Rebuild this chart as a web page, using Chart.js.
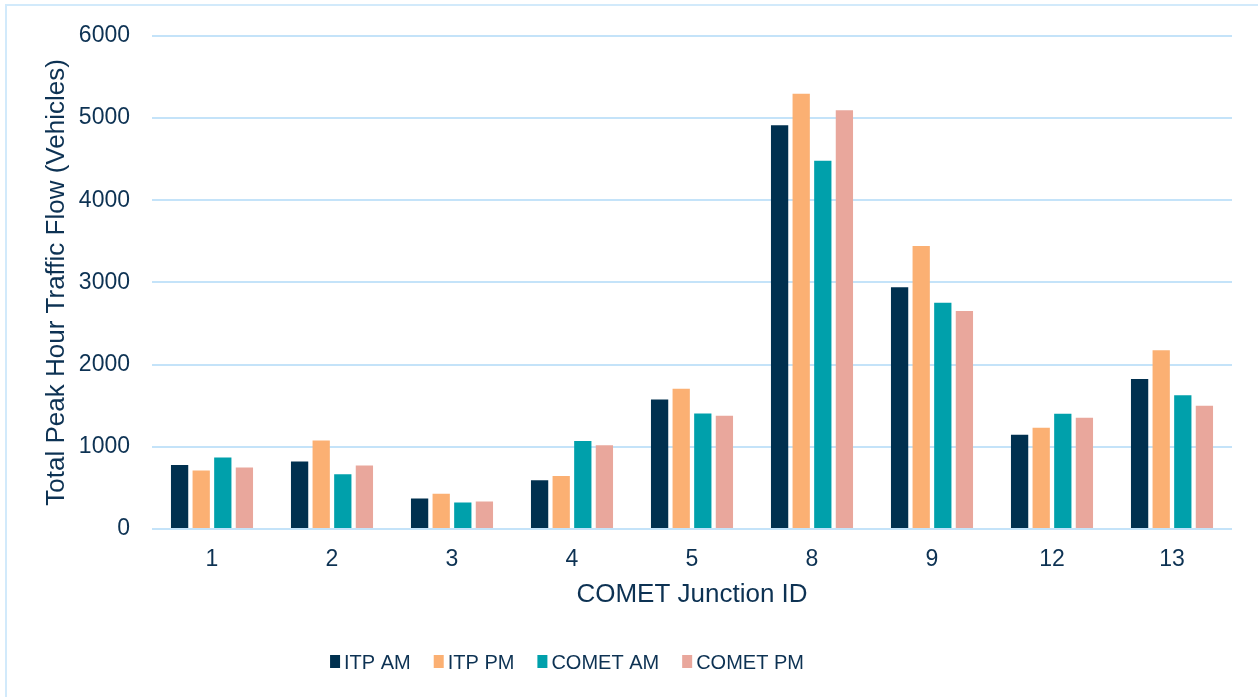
<!DOCTYPE html>
<html>
<head>
<meta charset="utf-8">
<script src="https://cdn.jsdelivr.net/npm/chart.js@4.4.1/dist/chart.umd.min.js"></script>
<style>
  html, body { margin: 0; padding: 0; background: #fff; overflow: hidden; }
  #frame {
    position: absolute; left: 5px; top: 4px;
    width: 1300px; height: 800px;
    border: 2px solid #d2eafb;
  }
  #wrap { position: absolute; left: 0; top: 0; width: 1258px; height: 697px; }
</style>
</head>
<body>
<div id="frame"></div>
<div id="wrap"><canvas id="flowChart" width="1258" height="697"></canvas></div>
<script>
// 교차로별 첨두시 교통량
var junctions = ['1', '2', '3', '4', '5', '8', '9', '12', '13'];
var itpAm   = [778, 820, 371, 594, 1575, 4911, 2940, 1146, 1826];
var itpPm   = [711, 1076, 428, 646, 1705, 5296, 3444, 1231, 2174];
var cometAm = [871, 665, 322, 1070, 1405, 4480, 2753, 1401, 1627];
var cometPm = [747, 772, 334, 1018, 1377, 5094, 2652, 1353, 1498];
var yTicks  = [0, 1000, 2000, 3000, 4000, 5000, 6000];

var textColor = '#0d3253';
var gridColor = '#c4e3f9';
var fontFamily = '"Liberation Sans", Arial, sans-serif';

// 범례를 캔버스 아래쪽에 직접 그리는 플러그인
var bottomLegend = {
  id: 'bottomLegend',
  afterDraw: function (chart) {
    var ctx = chart.ctx;
    var centerX = 567, centerY = 662;
    var boxW = 10, boxH = 13, gap = 4, space = 23;
    ctx.save();
    ctx.font = '20px ' + fontFamily;
    var items = chart.data.datasets.map(function (ds) {
      return { text: ds.label, color: ds.backgroundColor, w: ctx.measureText(ds.label).width };
    });
    var total = items.reduce(function (s, it) { return s + boxW + gap + it.w; }, 0) + space * (items.length - 1);
    var x = centerX - total / 2;
    ctx.textBaseline = 'middle';
    ctx.textAlign = 'left';
    items.forEach(function (it) {
      ctx.fillStyle = it.color;
      ctx.fillRect(x, centerY - 7, boxW, boxH);
      ctx.fillStyle = textColor;
      ctx.fillText(it.text, x + boxW + gap, centerY + 1);
      x += boxW + gap + it.w + space;
    });
    ctx.restore();
  }
};

var ctx = document.getElementById('flowChart').getContext('2d');
new Chart(ctx, {
  type: 'bar',
  data: {
    labels: junctions,
    datasets: [
      { label: 'ITP AM', data: itpAm, backgroundColor: '#00304f' },
      { label: 'ITP PM', data: itpPm, backgroundColor: '#fbb073' },
      { label: 'COMET AM', data: cometAm, backgroundColor: '#00a0ab' },
      { label: 'COMET PM', data: cometPm, backgroundColor: '#e9a79c' }
    ]
  },
  options: {
    responsive: false,
    animation: false,
    devicePixelRatio: 1,
    datasets: {
      bar: { categoryPercentage: 0.72, barPercentage: 0.8 }
    },
    layout: {
      padding: { left: 38, right: 26, top: 34, bottom: 83 }
    },
    plugins: {
      legend: { display: false },
      tooltip: { enabled: false }
    },
    scales: {
      x: {
        grid: { display: false },
        border: { display: false },
        ticks: {
          color: textColor,
          padding: 9,
          font: { family: fontFamily, size: 23 }
        },
        title: {
          display: true,
          text: 'COMET Junction ID',
          color: textColor,
          padding: { top: 0, bottom: 4 },
          font: { family: fontFamily, size: 26 }
        },
        afterFit: function (scale) { scale.height = 85; }
      },
      y: {
        min: 0,
        max: 6000,
        afterBuildTicks: function (scale) {
          scale.ticks = yTicks.map(function (v) { return { value: v }; });
        },
        grid: { color: gridColor, lineWidth: 2, drawTicks: false },
        border: { display: false },
        ticks: {
          color: textColor,
          padding: 22,
          font: { family: fontFamily, size: 23 },
          callback: function (value) { return String(value); }
        },
        title: {
          display: true,
          text: 'Total Peak Hour Traffic Flow (Vehicles)',
          color: textColor,
          padding: { top: 3, bottom: 0 },
          font: { family: fontFamily, size: 26 }
        },
        afterFit: function (scale) { scale.width = 114; }
      }
    }
  },
  plugins: [bottomLegend]
});
</script>
</body>
</html>
